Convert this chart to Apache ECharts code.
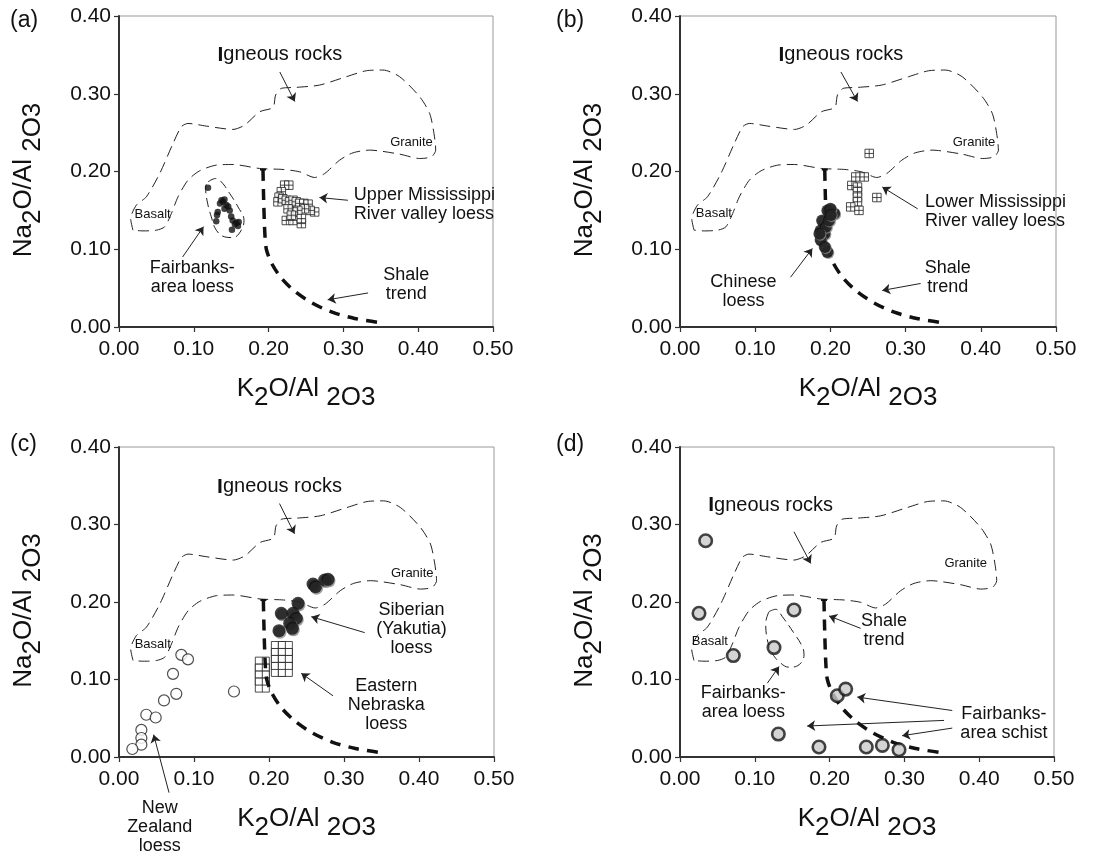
<!DOCTYPE html>
<html><head><meta charset="utf-8">
<script src="https://cdn.jsdelivr.net/npm/echarts@6/dist/echarts.min.js"></script>
<style>html,body{margin:0;padding:0;background:#fff}#chart{width:1108px;height:855px}</style>
</head><body><div id="chart"></div>
<script>
// ---------- data ----------
const xTickValues = [0, 0.1, 0.2, 0.3, 0.4, 0.5];
const yTickValues = [0, 0.1, 0.2, 0.3, 0.4];
const panelLetters = ['(a)', '(b)', '(c)', '(d)'];

// igneous rocks field outline (closed)
const igneousOutline = [
  [0.0187,0.1245],[0.0156,0.1395],[0.0232,0.1567],[0.0365,0.1674],[0.0544,0.1974],[0.0722,0.236],
  [0.0833,0.2575],[0.0922,0.2618],[0.1168,0.2584],[0.1524,0.2541],[0.168,0.2597],[0.188,0.2768],
  [0.2059,0.2824],[0.2094,0.2983],[0.217,0.3069],[0.237,0.3082],[0.2683,0.3112],[0.3039,0.3219],
  [0.3307,0.3296],[0.3529,0.3305],[0.3752,0.3219],[0.402,0.2961],[0.4153,0.2747],[0.4211,0.2489],
  [0.4234,0.2275],[0.4176,0.2189],[0.402,0.2167],[0.3752,0.2223],[0.3351,0.2275],[0.3128,0.224],
  [0.295,0.2146],[0.275,0.1974],[0.2616,0.1923],[0.2415,0.1996],[0.2193,0.2026],[0.188,0.2039],
  [0.1524,0.209],[0.1301,0.2082],[0.1078,0.2009],[0.0922,0.1888],[0.0789,0.1674],[0.07,0.1459],
  [0.061,0.1288],[0.0499,0.1245],[0.0321,0.1236],[0.0187,0.1245]
];
// shale trend
const shaleTrend = [
  [0.1925,0.202],[0.1935,0.16],[0.195,0.12],[0.197,0.10],[0.204,0.082],[0.217,0.063],
  [0.235,0.046],[0.258,0.031],[0.285,0.019],[0.315,0.011],[0.346,0.006]
];
const shaleCap = [[0.1885,0.2025],[0.1965,0.2025]];

// (a)
const fairbanksLoessA = [
  [0.119,0.179],[0.135,0.159],[0.139,0.161],[0.1435,0.157],[0.141,0.152],[0.146,0.155],[0.148,0.150],
  [0.132,0.148],[0.131,0.144],[0.130,0.136],[0.150,0.142],[0.152,0.137],[0.157,0.134],[0.160,0.135],
  [0.155,0.132],[0.159,0.130],[0.151,0.125],[0.137,0.163],[0.141,0.164]
];
const fairbanksEnclosureA = [
  [0.119,0.1867],[0.1292,0.191],[0.1368,0.1867],[0.148,0.1717],[0.1591,0.1545],[0.1671,0.1373],
  [0.1635,0.1245],[0.1524,0.115],[0.1413,0.1159],[0.1301,0.1245],[0.1234,0.1416],[0.1176,0.1631],
  [0.1158,0.1803],[0.119,0.1867]
];
const upperMississippiA = [
  [0.2215,0.1824],[0.227,0.1824],[0.217,0.174],[0.214,0.167],[0.2125,0.161],[0.219,0.165],
  [0.2237,0.163],[0.228,0.161],[0.2326,0.163],[0.237,0.161],[0.2415,0.159],[0.247,0.159],
  [0.2528,0.158],[0.2616,0.148],[0.2555,0.150],[0.248,0.152],[0.239,0.150],[0.2326,0.148],
  [0.226,0.152],[0.2237,0.137],[0.2326,0.137],[0.2438,0.133],[0.2438,0.1395],[0.2304,0.1438]
];
// (b)
const chineseLoessB = [
  [0.196,0.150],[0.205,0.146],[0.200,0.152],[0.189,0.137],[0.187,0.124],[0.192,0.120],
  [0.187,0.112],[0.194,0.129],[0.198,0.137],[0.196,0.0966],[0.1925,0.103],[0.2005,0.144],[0.1854,0.120]
];
const lowerMississippiB = [
  [0.2285,0.182],[0.2516,0.2232],[0.2338,0.193],[0.245,0.193],[0.236,0.180],[0.236,0.174],
  [0.236,0.167],[0.236,0.161],[0.227,0.1545],[0.238,0.150],[0.2618,0.1665]
];
// (c)
const newZealandC = [
  [0.0831,0.1318],[0.092,0.126],[0.072,0.1073],[0.0764,0.0815],[0.060,0.073],[0.0364,0.0545],
  [0.0489,0.051],[0.0298,0.035],[0.0298,0.0245],[0.0298,0.0159],[0.0178,0.0103],[0.1533,0.0845]
];
const siberianC = [
  [0.2587,0.2232],[0.262,0.2197],[0.2742,0.2283],[0.2787,0.2292],[0.2387,0.1983],[0.2164,0.1854],
  [0.232,0.1854],[0.2364,0.179],[0.2276,0.1725],[0.2311,0.166],[0.2133,0.163]
];
const nebraskaC = [
  [0.2125,0.140],[0.2218,0.140],[0.2125,0.131],[0.2218,0.131],[0.2125,0.122],[0.2218,0.122],
  [0.2125,0.113],[0.2218,0.113],
  [0.1911,0.1198],[0.1911,0.1108],[0.1911,0.1018],[0.1911,0.0928]
];
// (d)
const fairbanksD = [
  [0.0343,0.279],[0.0254,0.1854],[0.0713,0.1309],[0.1257,0.1412],[0.1524,0.1897],[0.2103,0.079],
  [0.2215,0.0876],[0.1315,0.0296],[0.1858,0.0129],[0.2491,0.0129],[0.2705,0.015],[0.2928,0.0094]
];
const fairbanksEnclosureD = [
  [0.119,0.1876],[0.1279,0.1906],[0.1368,0.1811],[0.1524,0.1597],[0.1635,0.1425],[0.1658,0.1318],
  [0.1591,0.1189],[0.1457,0.1159],[0.1337,0.1219],[0.1234,0.1339],[0.1168,0.1511],[0.1146,0.1725],
  [0.119,0.1876]
];

// annotations: [text, x, y, align, kind]
const notesA = [
  ['{i|I}gneous rocks',0.215,0.350,'center','big'],
  ['Upper Mississippi\nRiver valley loess',0.314,0.158,'left'],
  ['Fairbanks-\narea loess',0.098,0.063,'center'],
  ['Shale\ntrend',0.384,0.055,'center'],
  ['Basalt',0.045,0.145,'center','small'],
  ['Granite',0.391,0.237,'center','small']
];
const notesB = [
  ['{i|I}gneous rocks',0.214,0.350,'center','big'],
  ['Lower Mississippi\nRiver valley loess',0.3257,0.149,'left'],
  ['Chinese\nloess',0.0843,0.046,'center'],
  ['Shale\ntrend',0.356,0.063,'center'],
  ['Basalt',0.045,0.146,'center','small'],
  ['Granite',0.391,0.237,'center','small']
];
const notesC = [
  ['{i|I}gneous rocks',0.214,0.3485,'center','big'],
  ['Siberian\n(Yakutia)\nloess',0.39,0.1655,'center'],
  ['Eastern\nNebraska\nloess',0.3564,0.0665,'center'],
  ['New\nZealand\nloess',0.0542,-0.090,'center'],
  ['Basalt',0.045,0.145,'center','small'],
  ['Granite',0.391,0.237,'center','small']
];
const notesD = [
  ['{i|I}gneous rocks',0.1212,0.325,'center','big'],
  ['Shale\ntrend',0.2727,0.163,'center'],
  ['Fairbanks-\narea loess',0.0847,0.0706,'center'],
  ['Fairbanks-\narea schist',0.433,0.0438,'center'],
  ['Basalt',0.040,0.149,'center','small'],
  ['Granite',0.382,0.250,'center','small']
];
// arrows: [from, to]
const arrowsA = [
  [[0.215,0.328],[0.235,0.290]], [[0.306,0.163],[0.268,0.1665]],
  [[0.085,0.090],[0.113,0.129]], [[0.333,0.0438],[0.279,0.035]]
];
const arrowsB = [
  [[0.214,0.328],[0.236,0.290]], [[0.316,0.152],[0.269,0.180]],
  [[0.147,0.064],[0.176,0.101]], [[0.320,0.056],[0.269,0.047]]
];
const arrowsC = [
  [[0.214,0.327],[0.234,0.288]], [[0.3276,0.1605],[0.2564,0.181]],
  [[0.2853,0.079],[0.243,0.108]], [[0.0667,-0.046],[0.0462,0.0288]]
];
const arrowsD = [
  [[0.1524,0.2906],[0.1747,0.2498]], [[0.2415,0.166],[0.1992,0.182]],
  [[0.1168,0.0953],[0.1324,0.1167]], [[0.364,0.060],[0.237,0.0773]],
  [[0.353,0.0472],[0.170,0.040]], [[0.364,0.0373],[0.297,0.0275]]
];

// ---------- styling / layout ----------
const FONT = '"Liberation Sans", Arial, Helvetica, sans-serif';
const INK = '#111';
const grids = [
  {left:119, top:16, width:374, height:311},
  {left:680, top:16, width:376, height:311},
  {left:119, top:447, width:375, height:310},
  {left:680, top:447, width:374, height:310}
];
const crossSquare = 'path://M0,0H20V20H0Z M10,0V20 M0,10H20';

const nameRich = {
  n: {fontSize: 26, fontFamily: FONT, color: INK},
  s: {fontSize: 26, fontFamily: FONT, color: INK, padding: [18, 0, 0, 0]}
};

const xAxes = grids.map((g, i) => ({
  gridIndex: i, type: 'value', min: 0, max: 0.5, interval: 0.1,
  axisLine: {show: true, onZero: false, lineStyle: {color: '#333', width: 2}},
  axisTick: {show: true, inside: false, length: 5, lineStyle: {color: '#333', width: 1.2}},
  splitLine: {show: false},
  axisLabel: {fontSize: 21, fontFamily: FONT, color: INK, margin: 12, formatter: v => v.toFixed(2)},
  name: '{n|K}{s|2}{n|O/Al }{s|2O3}', nameLocation: 'middle', nameGap: 40,
  nameTextStyle: {rich: nameRich}
}));
const yAxes = grids.map((g, i) => ({
  gridIndex: i, type: 'value', min: 0, max: 0.4, interval: 0.1,
  axisLine: {show: true, onZero: false, lineStyle: {color: '#333', width: 2}},
  axisTick: {show: true, inside: false, length: 5, lineStyle: {color: '#333', width: 1.2}},
  splitLine: {show: false},
  axisLabel: {fontSize: 21, fontFamily: FONT, color: INK, margin: 8, formatter: v => v.toFixed(2)},
  name: '{n|Na}{s|2}{n|O/Al }{s|2O3}', nameLocation: 'middle', nameGap: 73, nameRotate: 90,
  nameTextStyle: {rich: nameRich, padding: [0, 17, 0, 0]}
}));

function baseSeries(i) {
  return [
    {type: 'line', xAxisIndex: i, yAxisIndex: i, data: igneousOutline, showSymbol: false, smooth: 0.25,
     lineStyle: {color: '#222', width: 1, type: [11, 6]}, z: 2, silent: true},
    {type: 'line', xAxisIndex: i, yAxisIndex: i, data: shaleTrend, showSymbol: false, smooth: 0.3,
     lineStyle: {color: '#111', width: 3.5, type: [11, 8]}, z: 5, silent: true},
    {type: 'line', xAxisIndex: i, yAxisIndex: i, data: shaleCap, showSymbol: false,
     lineStyle: {color: '#111', width: 2}, z: 5, silent: true}
  ];
}
function enclosure(i, data) {
  return {type: 'line', xAxisIndex: i, yAxisIndex: i, data, showSymbol: false, smooth: 0.4,
          lineStyle: {color: '#222', width: 1, type: [9, 5]}, z: 2, silent: true};
}
function arrowSeries(i, arrows) {
  return {
    type: 'lines', coordinateSystem: 'cartesian2d', xAxisIndex: i, yAxisIndex: i, clip: false,
    symbol: ['none', 'arrow'], symbolSize: 8, z: 7, silent: true,
    lineStyle: {color: '#222', width: 1, opacity: 1},
    data: arrows.map(a => ({coords: a}))
  };
}

const series = [];
// (a)
series.push(...baseSeries(0), enclosure(0, fairbanksEnclosureA),
  {type: 'scatter', xAxisIndex: 0, yAxisIndex: 0, data: fairbanksLoessA, symbolSize: 6.5,
   itemStyle: {color: '#111'}, z: 6},
  {type: 'scatter', xAxisIndex: 0, yAxisIndex: 0, data: upperMississippiA, symbol: crossSquare, symbolSize: 8.5,
   itemStyle: {color: '#fff', borderColor: '#222', borderWidth: 1}, z: 6},
  arrowSeries(0, arrowsA));
// (b)
series.push(...baseSeries(1),
  {type: 'scatter', xAxisIndex: 1, yAxisIndex: 1, data: chineseLoessB, symbolSize: 12,
   itemStyle: {color: '#111', shadowColor: '#888', shadowOffsetX: 1, shadowOffsetY: 1, shadowBlur: 0}, z: 6},
  {type: 'scatter', xAxisIndex: 1, yAxisIndex: 1, data: lowerMississippiB, symbol: crossSquare, symbolSize: 8.5,
   itemStyle: {color: '#fff', borderColor: '#222', borderWidth: 1}, z: 6},
  arrowSeries(1, arrowsB));
// (c)
series.push(...baseSeries(2),
  {type: 'scatter', xAxisIndex: 2, yAxisIndex: 2, data: nebraskaC, symbol: crossSquare, symbolSize: 14,
   itemStyle: {color: '#fff', borderColor: '#222', borderWidth: 1}, z: 4},
  {type: 'scatter', xAxisIndex: 2, yAxisIndex: 2, data: siberianC, symbolSize: 13,
   itemStyle: {color: '#111', shadowColor: '#888', shadowOffsetX: 1, shadowOffsetY: 1.5, shadowBlur: 0}, z: 6},
  {type: 'scatter', xAxisIndex: 2, yAxisIndex: 2, data: newZealandC, symbolSize: 11,
   itemStyle: {color: '#fff', borderColor: '#222', borderWidth: 1.2}, z: 6},
  arrowSeries(2, arrowsC));
// (d)
series.push(...baseSeries(3), enclosure(3, fairbanksEnclosureD),
  {type: 'scatter', xAxisIndex: 3, yAxisIndex: 3, data: fairbanksD, symbolSize: 12.5,
   itemStyle: {color: '#c9c9c9', borderColor: '#151515', borderWidth: 2.6}, z: 6},
  arrowSeries(3, arrowsD));

const chart = echarts.init(document.getElementById('chart'), null, {renderer: 'canvas'});
const letterPos = [[10, 9], [556, 9], [10, 433], [556, 433]];
const baseGraphics = panelLetters.map((t, i) => ({
  type: 'text', left: letterPos[i][0], top: letterPos[i][1],
  style: {text: t, fontSize: 23, fontFamily: FONT, fill: INK}
}));
chart.setOption({
  animation: false,
  backgroundColor: '#fff',
  textStyle: {fontFamily: FONT},
  grid: grids.map(g => Object.assign({show: true, borderColor: '#999', borderWidth: 1, backgroundColor: 'transparent',
                                      containLabel: false, outerBoundsMode: 'none'}, g)),
  xAxis: xAxes,
  yAxis: yAxes,
  graphic: baseGraphics,
  series
});

// annotation texts placed through the axes' scales
const noteGraphics = [];
[notesA, notesB, notesC, notesD].forEach((notes, gi) => {
  notes.forEach(n => {
    const p = chart.convertToPixel({gridIndex: gi}, [n[1], n[2]]);
    const small = n[4] === 'small', big = n[4] === 'big';
    noteGraphics.push({
      type: 'text', x: p[0], y: p[1], z: 20, silent: true,
      style: {
        text: n[0], align: n[3], verticalAlign: 'middle',
        fontSize: small ? 13 : (big ? 20 : 18), fontFamily: FONT, fill: INK, lineHeight: 19,
        rich: {i: {fontSize: 21, fontWeight: 'bold', fontFamily: FONT, fill: INK, color: INK}}
      }
    });
  });
});
chart.setOption({graphic: baseGraphics.concat(noteGraphics)}, {replaceMerge: ['graphic']});
</script>
</body></html>
